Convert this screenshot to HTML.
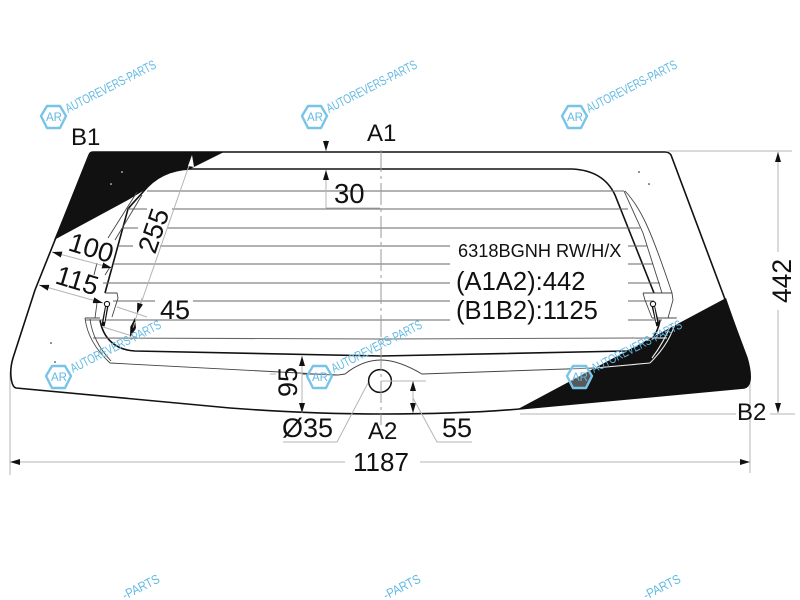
<!DOCTYPE html>
<html><head><meta charset="utf-8"><style>
html,body{margin:0;padding:0;background:#fff;width:800px;height:600px;overflow:hidden}
svg{display:block}
text{font-family:"Liberation Sans",sans-serif;fill:#111}
.w{fill:#62b9e2;font-size:13px}
.l{fill:#62b9e2;font-size:12px}
.d{stroke:#b5b5b5;stroke-width:1;fill:none}
.h{stroke:#666;stroke-width:1;fill:none}
.k{stroke:#111;stroke-width:1.6;fill:none}
.t{stroke:#444;stroke-width:.9;fill:none}
.x{stroke:#78c4e8;stroke-width:2.4;fill:#fff;fill-opacity:.3;stroke-linejoin:round}
</style></head><body>
<svg xmlns="http://www.w3.org/2000/svg" width="800" height="600" viewBox="0 0 800 600">
<defs>
<marker id="a" viewBox="0 0 10 6" refX="10" refY="3" markerWidth="10" markerHeight="6" markerUnits="userSpaceOnUse" orient="auto-start-reverse"><path d="M0 0L10 3L0 6Z" fill="#111"/></marker>
</defs>

<!-- extension lines -->
<path class="d" d="M668 151H792M520 414H736M770 414H795M10 372V475M750 380V473"/>

<!-- black print areas -->
<path fill="#111" d="M91 152H224L190 169C172 170 158 175 143 191L128 200L54 240Z"/>
<path fill="#111" d="M726 298L747 358Q751 372 750 380Q749 387 744 388L518 409Z"/>
<g fill="#fff"><circle cx="122" cy="172" r=".8"/><circle cx="111" cy="184" r=".8"/></g>
<g fill="#111"><circle cx="639" cy="172" r=".8"/><circle cx="649" cy="184" r=".8"/><circle cx="51" cy="343" r=".8"/><circle cx="55" cy="362" r=".8"/></g>

<!-- glass outer -->
<path class="k" d="M93 152H665Q669 152 671 155L747 358Q751 372 750 380Q749 387 744 388L530 408Q470 414 381 414Q310 414 230 408L16 388Q12 387 11 377Q10 368 13 358L35 290L89 155Q90 152 93 152Z"/>

<!-- inner window -->
<path class="k" d="M190 169H572C595 170 608 180 615 195L654 293"/>
<path class="k" d="M190 169C170 170 155 177 143 192C135 201 131 205 128 209L105 293"/>
<path class="k" d="M100 320C103 338 115 350 135 351L381 356L627 351C645 350 657 338 660 320"/>

<!-- heater lines -->
<g class="h">
<path d="M147 191H624"/>
<path d="M128 209H147M172 209H628"/>
<path d="M122 228H138M167 228H640"/>
<path d="M118 246H133M160 246H450M628 246H647"/>
<path d="M113 264H450M628 264H653"/>
<path d="M103 283H450M628 283H660"/>
<path d="M113 301H155M193 301H450M628 301H654"/>
<path d="M85 320H450M628 320H662"/>
<path d="M93 338L381 339L652 338"/>
</g>

<!-- second contour, side lines -->
<g class="t">
<path d="M137 192L108 238M97 263L94 275M97 303L95 318"/>
<path d="M142 195L115 240M110 267L105 275"/>
<path d="M624 191L643 233L662 293"/>
<path d="M625 191C640 207 650 227 672 293"/>
<path d="M105 293H117L118 298L112 317"/>
<path d="M643 293H672L673 300L668 318M643 293L645 300L652 318"/>
<path d="M85 318H100M652 318H677"/>
<path d="M85 318C87 335 96 350 110 363L337 375"/>
<path d="M90 319C92 335 99 348 111 361"/>
<path d="M302 374L338 375L345 374C360 362 372 360 381 360C392 360 405 364 422 374L595 368" stroke-width="1"/>
</g>
<g fill="none" stroke="#eee" stroke-width="1.1">
<path d="M595 368L650 363"/>
<path d="M677 318C672 335 665 348 650 363"/>
<path d="M672 322C668 332 662 345 652 358"/>
<path d="M652 338H667"/>
</g>

<!-- heater connectors -->
<g stroke="#111" fill="none">
<path d="M107 305L103 326" stroke-width="3.4"/><path d="M106.6 306L104 322" stroke="#fff" stroke-width="1"/><circle cx="107" cy="304" r="2.6" fill="#fff" stroke-width="1.1"/>
<path d="M653 305L658 326" stroke-width="3.4"/><path d="M653.6 306L656.6 322" stroke="#fff" stroke-width="1"/><circle cx="653" cy="304" r="2.6" fill="#fff" stroke-width="1.1"/>
</g>

<!-- circle -->
<circle cx="380" cy="381" r="11.4" fill="#fff" stroke="#111" stroke-width="1.5"/>

<!-- axis -->
<path class="d" stroke-dasharray="22 4 3 4" d="M381 150V425" style="stroke:#999"/>

<!-- dimensions -->
<g class="d">
<line x1="326" y1="140" x2="326" y2="151" marker-end="url(#a)"/>
<path d="M326 208H380"/>
<line x1="326" y1="208" x2="326" y2="170" marker-end="url(#a)"/>
<line x1="778" y1="252" x2="778" y2="152" marker-end="url(#a)"/>
<line x1="778" y1="310" x2="778" y2="413" marker-end="url(#a)"/>
<line x1="10" y1="462" x2="345" y2="462" marker-start="url(#a)"/>
<line x1="420" y1="462" x2="750" y2="462" marker-end="url(#a)"/>
<path d="M192 157L130 335"/>
<line x1="52" y1="252" x2="112" y2="268" marker-start="url(#a)" marker-end="url(#a)"/>
<line x1="39" y1="285" x2="103" y2="303" marker-start="url(#a)" marker-end="url(#a)"/>
<path d="M117 307L147 317M103 327L142 339"/>
<line x1="142" y1="298" x2="137" y2="313" marker-end="url(#a)"/>
<line x1="132" y1="333" x2="135" y2="318" marker-end="url(#a)"/>
<line x1="135" y1="322" x2="130" y2="337" marker-end="url(#a)"/>
<line x1="302" y1="356" x2="302" y2="413" marker-start="url(#a)" marker-end="url(#a)"/>
<path d="M270 374H276"/>
<line x1="413" y1="381" x2="413" y2="413" marker-start="url(#a)" marker-end="url(#a)"/>
<path d="M381 381H426M413 398L437 442H472M368 383L337 442H283"/>
</g>
<path d="M192 155L188 166L194 167Z" fill="#fff"/>

<!-- labels -->
<text x="71" y="145" font-size="24">B1</text>
<text x="367" y="141" font-size="24">A1</text>
<text x="334" y="203" font-size="27.5">30</text>
<text x="458" y="257" font-size="18.2">6318BGNH RW/H/X</text>
<text x="456" y="290" font-size="25.6">(A1A2):442</text>
<text x="456" y="319" font-size="25.6">(B1B2):1125</text>
<text x="160" y="319" font-size="27">45</text>
<text x="282" y="437" font-size="27">Ø35</text>
<text x="368" y="439" font-size="24">A2</text>
<text x="442" y="437" font-size="27">55</text>
<text x="737" y="420" font-size="24">B2</text>
<text x="353" y="471" font-size="26">1187</text>
<text font-size="27" transform="translate(297,397) rotate(-90)">95</text>
<text font-size="26.4" transform="translate(791,303) rotate(-90)">442</text>
<text font-size="27" transform="translate(155,255) rotate(-71)">255</text>
<text font-size="27" transform="translate(67,250) rotate(17)">100</text>
<text font-size="27" transform="translate(54,283) rotate(17)">115</text>

<!-- watermarks -->
<path class="x" d="M41 116L47 106H60L66 116L60 128H47Z"/>
<path class="x" d="M302 116L308 106H321L327 116L321 128H308Z"/>
<path class="x" d="M562 116L568 106H581L587 116L581 128H568Z"/>
<path class="x" d="M46 376L52 366H65L71 376L65 388H52Z"/>
<path class="x" d="M307 376L313 366H326L332 376L326 388H313Z"/>
<path class="x" d="M567 376L573 366H586L592 376L586 388H573Z"/>
<text class="l" x="46" y="121" textLength="16" lengthAdjust="spacingAndGlyphs">AR</text>
<text class="l" x="307" y="121" textLength="16" lengthAdjust="spacingAndGlyphs">AR</text>
<text class="l" x="567" y="121" textLength="16" lengthAdjust="spacingAndGlyphs">AR</text>
<text class="l" x="51" y="381" textLength="16" lengthAdjust="spacingAndGlyphs">AR</text>
<text class="l" x="312" y="381" textLength="16" lengthAdjust="spacingAndGlyphs">AR</text>
<text class="l" x="572" y="381" textLength="16" lengthAdjust="spacingAndGlyphs">AR</text>
<text class="w" textLength="100" lengthAdjust="spacingAndGlyphs" transform="translate(68,113) rotate(-27)">AUTOREVERS-PARTS</text>
<text class="w" textLength="100" lengthAdjust="spacingAndGlyphs" transform="translate(329,113) rotate(-27)">AUTOREVERS-PARTS</text>
<text class="w" textLength="100" lengthAdjust="spacingAndGlyphs" transform="translate(589,113) rotate(-27)">AUTOREVERS-PARTS</text>
<text class="w" textLength="100" lengthAdjust="spacingAndGlyphs" transform="translate(73,373) rotate(-27)">AUTOREVERS-PARTS</text>
<text class="w" textLength="100" lengthAdjust="spacingAndGlyphs" transform="translate(334,373) rotate(-27)">AUTOREVERS-PARTS</text>
<text class="w" textLength="100" lengthAdjust="spacingAndGlyphs" transform="translate(594,373) rotate(-27)">AUTOREVERS-PARTS</text>
<text class="w" textLength="40" lengthAdjust="spacingAndGlyphs" transform="translate(125,600) rotate(-27)">-PARTS</text>
<text class="w" textLength="40" lengthAdjust="spacingAndGlyphs" transform="translate(386,600) rotate(-27)">-PARTS</text>
<text class="w" textLength="40" lengthAdjust="spacingAndGlyphs" transform="translate(646,600) rotate(-27)">-PARTS</text>
</svg>
</body></html>
